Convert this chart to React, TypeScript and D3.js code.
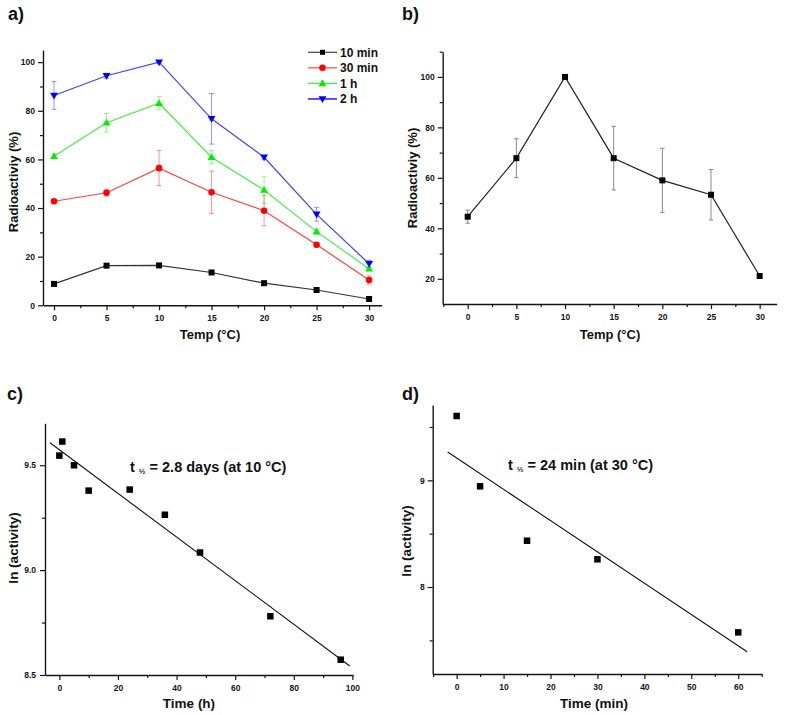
import React, { useEffect, useRef } from 'react';
import * as d3 from 'd3';

// ---------- Panel a ----------
const tempA = [0, 5, 10, 15, 20, 25, 30];
const act10min = [8.8, 16.3, 16.4, 13.5, 9.1, 6.3, 2.6];
const err10min = [0.3, 0.4, 0.3, 0.3, 0.3, 0.3, 0.3];
const act30min = [42.8, 46.3, 56.4, 46.5, 38.9, 24.9, 10.4];
const err30min = [0.6, 1.4, 7.2, 8.7, 6.2, 0.9, 1.7];
const act1h = [61.3, 75.1, 83.1, 60.9, 47.4, 30.3, 15.0];
const err1h = [1.0, 3.8, 2.7, 2.7, 5.5, 0.9, 0.8];
const act2h = [86.3, 94.4, 100, 76.7, 60.9, 37.4, 17.1];
const err2h = [5.7, 1.0, 0.4, 10.4, 0.8, 2.8, 1.4];
const seriesNames = ['10 min', '30 min', '1 h', '2 h'];
const seriesColors = ['#000000', '#ff0000', '#00ee00', '#0000ff'];
const seriesMarkers = ['square', 'circle', 'triUp', 'triDown'];

// ---------- Panel b ----------
const tempB = [0, 5, 10, 15, 20, 25, 30];
const actB = [44.6, 67.8, 100, 67.8, 59.0, 53.3, 21.1];
const errB = [2.6, 7.7, 0.5, 12.6, 12.7, 10.0, 0.3];

// ---------- Panel c ----------
const timeH = [0, 1, 5, 10, 24, 36, 48, 72, 96];
const lnActH = [9.546, 9.613, 9.5, 9.379, 9.384, 9.264, 9.084, 8.78, 8.573];
const fitHX = [-3.2, 99.1];
const fitHY = [9.607, 8.543];

// ---------- Panel d ----------
const timeMin = [0, 5, 15, 30, 60];
const lnActMin = [9.603, 8.944, 8.434, 8.26, 7.575];
const fitMinX = [-1.9, 61.9];
const fitMinY = [9.265, 7.394];

// ---------- Ticks ----------
const tempTicks = [0, 5, 10, 15, 20, 25, 30];
const tempMinorA = [2.5, 7.5, 12.5, 17.5, 22.5, 27.5];
const tempMinorB = [-2.5, 2.5, 7.5, 12.5, 17.5, 22.5, 27.5];
const pctTicksA = [0, 20, 40, 60, 80, 100];
const pctMinorA = [10, 30, 50, 70, 90];
const pctTicksB = [20, 40, 60, 80, 100];
const pctMinorB = [30, 50, 70, 90, 110];
const hourTicks = [0, 20, 40, 60, 80, 100];
const hourMinor = [10, 30, 50, 70, 90];
const lnTicksC = [8.5, 9.0, 9.5];
const lnMinorC = [8.75, 9.25];
const minTicks = [0, 10, 20, 30, 40, 50, 60];
const minMinor = [-5, 5, 15, 25, 35, 45, 55, 65];
const lnTicksD = [8, 9];
const lnMinorD = [7.5, 8.5, 9.5];

const FONT = '"Liberation Sans", Arial, Helvetica, sans-serif';
const AX = '#151515';

type Sel = d3.Selection<SVGGElement, unknown, null, undefined>;

function drawAxes(
  g: Sel,
  x: d3.ScaleLinear<number, number>,
  y: d3.ScaleLinear<number, number>,
  xMajor: number[], xMinor: number[], yMajor: number[], yMinor: number[],
  xFmt: (d: number) => string, yFmt: (d: number) => string,
  yPad: number
) {
  const yb = y.range()[0];
  const xl = x.range()[0];
  const gx = g.append('g').attr('transform', `translate(0,${yb})`);
  gx.call(d3.axisBottom(x).tickValues(xMajor).tickSize(5).tickSizeOuter(0).tickPadding(5).tickFormat(xFmt as any));
  const gxm = g.append('g').attr('transform', `translate(0,${yb})`);
  gxm.call(d3.axisBottom(x).tickValues(xMinor).tickSize(3).tickSizeOuter(0).tickFormat(() => ''));
  gxm.select('.domain').remove();
  const gy = g.append('g').attr('transform', `translate(${xl},0)`);
  gy.call(d3.axisLeft(y).tickValues(yMajor).tickSize(5).tickSizeOuter(0).tickPadding(yPad).tickFormat(yFmt as any));
  const gym = g.append('g').attr('transform', `translate(${xl},0)`);
  gym.call(d3.axisLeft(y).tickValues(yMinor).tickSize(3).tickSizeOuter(0).tickFormat(() => ''));
  gym.select('.domain').remove();
  g.selectAll('.domain').attr('stroke', AX).attr('stroke-width', 1.4);
  g.selectAll('.tick line').attr('stroke', AX).attr('stroke-width', 1.2);
  g.selectAll('.tick text')
    .attr('font-size', 8.5)
    .attr('font-weight', 'bold')
    .attr('font-family', FONT)
    .attr('fill', AX);
  [gx, gxm, gy, gym].forEach((s) => s.attr('font-family', null).attr('font-size', null));
}

function marker(g: Sel, kind: string, cx: number, cy: number, color: string, size: number) {
  if (kind === 'square') {
    g.append('rect').attr('x', cx - size / 2).attr('y', cy - size / 2).attr('width', size).attr('height', size).attr('fill', color);
  } else if (kind === 'circle') {
    g.append('circle').attr('cx', cx).attr('cy', cy).attr('r', size / 2 + 0.3).attr('fill', color);
  } else {
    const path = d3.symbol().type(d3.symbolTriangle).size(size * size * 0.75)();
    g.append('path')
      .attr('d', path as string)
      .attr('transform', `translate(${cx},${cy + (kind === 'triUp' ? 0.5 : -0.5)}) rotate(${kind === 'triUp' ? 0 : 180})`)
      .attr('fill', color);
  }
}

function axisTitle(svg: Sel, text: string, x: number, y: number, rotate: boolean, size = 13) {
  svg.append('text')
    .attr('x', rotate ? 0 : x)
    .attr('y', rotate ? 0 : y)
    .attr('transform', rotate ? `translate(${x},${y}) rotate(-90)` : null)
    .attr('text-anchor', 'middle')
    .attr('dy', '0.36em')
    .attr('font-family', FONT)
    .attr('font-weight', 'bold')
    .attr('font-size', size)
    .attr('fill', '#111')
    .text(text);
}

function panelLabel(svg: Sel, text: string, x: number, y: number) {
  svg.append('text').attr('x', x).attr('y', y)
    .attr('font-family', FONT).attr('font-weight', 'bold').attr('font-size', 18).attr('fill', '#111')
    .text(text);
}

function halfLifeText(svg: Sel, x: number, y: number, rest: string) {
  const t = svg.append('text').attr('x', x).attr('y', y)
    .attr('font-family', FONT).attr('font-weight', 'bold').attr('font-size', 14.5).attr('fill', '#111');
  t.append('tspan').text('t ');
  t.append('tspan').attr('font-size', 8).attr('dy', 1.5).text('½');
  t.append('tspan').attr('dy', -1.5).text(' ' + rest);
}

export default function App() {
  const ref = useRef<SVGSVGElement>(null);

  useEffect(() => {
    const svg = d3.select(ref.current as SVGSVGElement) as unknown as Sel;
    svg.selectAll('*').remove();
    const intFmt = (d: number) => d3.format('d')(d);

    // ===== Panel a =====
    {
      const x = d3.scaleLinear().domain([-1.05, 31.2]).range([43, 381.7]);
      const y = d3.scaleLinear().domain([0, 105]).range([305.3, 50]);
      const g = svg.append('g');
      drawAxes(g, x, y, tempTicks, tempMinorA, pctTicksA, pctMinorA, intFmt, intFmt, 3);
      const vals = [act10min, act30min, act1h, act2h];
      const errs = [err10min, err30min, err1h, err2h];
      vals.forEach((v, si) => {
        const color = seriesColors[si];
        const eg = g.append('g').attr('stroke', color).attr('stroke-opacity', 0.42).attr('stroke-width', 1);
        v.forEach((val, i) => {
          const e = errs[si][i];
          const cx = x(tempA[i]);
          eg.append('line').attr('x1', cx).attr('x2', cx).attr('y1', y(val - e)).attr('y2', y(val + e));
          eg.append('line').attr('x1', cx - 2.5).attr('x2', cx + 2.5).attr('y1', y(val - e)).attr('y2', y(val - e));
          eg.append('line').attr('x1', cx - 2.5).attr('x2', cx + 2.5).attr('y1', y(val + e)).attr('y2', y(val + e));
        });
      });
      vals.forEach((v, si) => {
        const color = seriesColors[si];
        const line = d3.line<number>().x((_, i) => x(tempA[i])).y((d) => y(d));
        g.append('path').attr('d', line(v) as string).attr('fill', 'none').attr('stroke', color)
          .attr('stroke-opacity', si === 0 ? 0.8 : 0.75).attr('stroke-width', 1.2);
        const mg = g.append('g');
        v.forEach((val, i) => marker(mg, seriesMarkers[si], x(tempA[i]), y(val), color, 6));
      });
      // legend
      const lg = svg.append('g');
      seriesNames.forEach((name, i) => {
        const ly = 52.3 + i * 15.55;
        lg.append('line').attr('x1', 308).attr('x2', 337).attr('y1', ly).attr('y2', ly)
          .attr('stroke', seriesColors[i]).attr('stroke-opacity', 0.75).attr('stroke-width', i === 3 ? 1.8 : 1.2);
        marker(lg, seriesMarkers[i], 322.5, ly, seriesColors[i], i === 0 ? 5 : 6);
        lg.append('text').attr('x', 340).attr('y', ly).attr('dy', '0.36em')
          .attr('font-family', FONT).attr('font-weight', 'bold').attr('font-size', 12).attr('fill', '#111')
          .text(name);
      });
      axisTitle(svg, 'Radioactiviy (%)', 13.5, 182, true);
      axisTitle(svg, 'Temp (°C)', 210, 334, false);
      panelLabel(svg, 'a)', 8, 20);
    }

    // ===== Panel b =====
    {
      const x = d3.scaleLinear().domain([-2.57, 31.75]).range([442.7, 776.7]);
      const y = d3.scaleLinear().domain([10, 110]).range([304, 51.7]);
      const g = svg.append('g');
      drawAxes(g, x, y, tempTicks, tempMinorB, pctTicksB, pctMinorB, intFmt, intFmt, 3);
      const eg = g.append('g').attr('stroke', '#888').attr('stroke-width', 1);
      actB.forEach((val, i) => {
        const e = errB[i];
        const cx = x(tempB[i]);
        eg.append('line').attr('x1', cx).attr('x2', cx).attr('y1', y(val - e)).attr('y2', y(val + e));
        eg.append('line').attr('x1', cx - 2.2).attr('x2', cx + 2.2).attr('y1', y(val - e)).attr('y2', y(val - e));
        eg.append('line').attr('x1', cx - 2.2).attr('x2', cx + 2.2).attr('y1', y(val + e)).attr('y2', y(val + e));
      });
      const line = d3.line<number>().x((_, i) => x(tempB[i])).y((d) => y(d));
      g.append('path').attr('d', line(actB) as string).attr('fill', 'none').attr('stroke', '#222').attr('stroke-width', 1.2);
      actB.forEach((val, i) => marker(g, 'square', x(tempB[i]), y(val), '#000', 6));
      axisTitle(svg, 'Radioactiviy (%)', 412, 178, true);
      axisTitle(svg, 'Temp (°C)', 610, 334, false);
      panelLabel(svg, 'b)', 402, 20);
    }

    // ===== Panel c =====
    {
      const x = d3.scaleLinear().domain([-4.9, 100.2]).range([45, 353]);
      const y = d3.scaleLinear().domain([8.5, 9.7]).range([675, 423.3]);
      const g = svg.append('g');
      drawAxes(g, x, y, hourTicks, hourMinor, lnTicksC, lnMinorC, intFmt, (d) => d3.format('.1f')(d), 4);
      g.append('line').attr('x1', x(fitHX[0])).attr('x2', x(fitHX[1])).attr('y1', y(fitHY[0])).attr('y2', y(fitHY[1]))
        .attr('stroke', '#111').attr('stroke-width', 1.1);
      lnActH.forEach((val, i) => marker(g, 'square', x(timeH[i]), y(val), '#000', 6.5));
      axisTitle(svg, 'ln (activity)', 13, 548, true, 13.5);
      axisTitle(svg, 'Time (h)', 189, 703, false, 13.5);
      halfLifeText(svg, 130, 472, '= 2.8 days (at 10 °C)');
      panelLabel(svg, 'c)', 7, 400);
    }

    // ===== Panel d =====
    {
      const x = d3.scaleLinear().domain([-5.1, 65]).range([432.7, 761.7]);
      const y = d3.scaleLinear().domain([7.185, 9.706]).range([674, 405]);
      const g = svg.append('g');
      drawAxes(g, x, y, minTicks, minMinor, lnTicksD, lnMinorD, intFmt, intFmt, 3);
      g.append('line').attr('x1', x(fitMinX[0])).attr('x2', x(fitMinX[1])).attr('y1', y(fitMinY[0])).attr('y2', y(fitMinY[1]))
        .attr('stroke', '#111').attr('stroke-width', 1.1);
      lnActMin.forEach((val, i) => marker(g, 'square', x(timeMin[i]), y(val), '#000', 6.5));
      axisTitle(svg, 'ln (activity)', 406, 541, true, 13.5);
      axisTitle(svg, 'Time (min)', 594, 703, false, 13.5);
      halfLifeText(svg, 508, 470, '= 24 min (at 30 °C)');
      panelLabel(svg, 'd)', 402, 400);
    }
  }, []);

  return (
    <svg
      ref={ref}
      width={787}
      height={715}
      style={{ position: 'absolute', left: 0, top: 0, background: '#fff' }}
    />
  );
}
